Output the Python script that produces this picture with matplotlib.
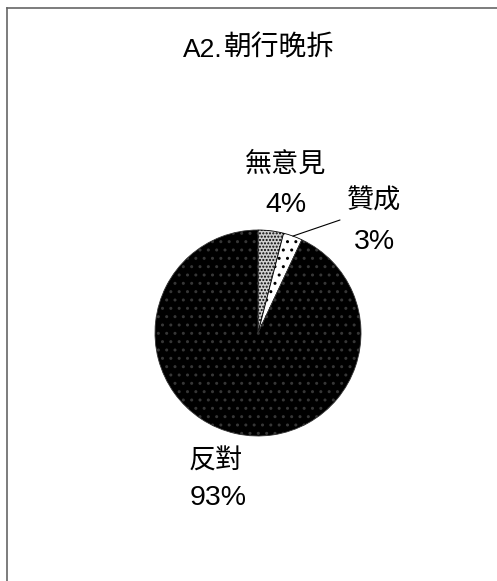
import matplotlib
matplotlib.use('Agg')
import matplotlib.pyplot as plt
import numpy as np
from matplotlib.lines import Line2D

# data
labels = ['無意見', '贊成', '反對']
values = [4, 3, 93]
pct_text = ['4%', '3%', '93%']

FONTS = ['Liberation Sans', 'Noto Sans CJK TC', 'DejaVu Sans']
W, H = 497, 581


def fx(px):
    return px / W


def fy(py):
    return 1 - py / H


fig = plt.figure(figsize=(W / 100, H / 100), dpi=100)
fig.patch.set_facecolor('white')

# frame (only left and top edges visible in the scan)
fig.add_artist(Line2D([fx(7), fx(7)], [fy(8), 0], color='#666666', lw=1.2))
fig.add_artist(Line2D([fx(7), 1], [fy(8), fy(8)], color='#666666', lw=1.2))

# title
fig.text(fx(223), fy(50), 'A2.', ha='right', va='center', fontsize=19,
         family=FONTS)
fig.text(fx(224), fy(48), '朝行晚拆', ha='left', va='center', fontsize=20,
         family=FONTS)

# pie
cx, cy, r = 258, 333, 103
ax = fig.add_axes([fx(cx - r), fy(cy + r), 2 * r / W, 2 * r / H])
wedges, _ = ax.pie(values, startangle=90, counterclock=False,
                   wedgeprops=dict(linewidth=0.6))
ax.set_xlim(-1, 1)
ax.set_ylim(-1, 1)
ax.set_aspect('equal')

styles = [
    dict(facecolor='#d0d0d0', edgecolor='black', hatch='.....'),
    dict(facecolor='white', edgecolor='black', hatch='..'),
    dict(facecolor='black', edgecolor='#363636', hatch='..'),
]
for w, st in zip(wedges, styles):
    w.set_facecolor(st['facecolor'])
    w.set_edgecolor(st['edgecolor'])
    w.set_hatch(st['hatch'])

# leader line for 贊成
w = wedges[1]
ang = np.deg2rad((w.theta1 + w.theta2) / 2)
ax.annotate('', xy=(np.cos(ang), np.sin(ang)), xycoords='data',
            xytext=(fx(340), fy(220)), textcoords='figure fraction',
            arrowprops=dict(arrowstyle='-', lw=0.8, color='black',
                            shrinkA=0, shrinkB=0))

# labels
label_pos = [(286, 165, 286, 205), (374, 202, 374, 242), (216, 462, 218, 498)]
for name, pct, (x1, y1, x2, y2) in zip(labels, pct_text, label_pos):
    fig.text(fx(x1), fy(y1), name, ha='center', va='center', fontsize=19.5,
             family=FONTS)
    fig.text(fx(x2), fy(y2), pct, ha='center', va='center', fontsize=20.5,
             family=FONTS)

plt.savefig('out.png', dpi=100)
